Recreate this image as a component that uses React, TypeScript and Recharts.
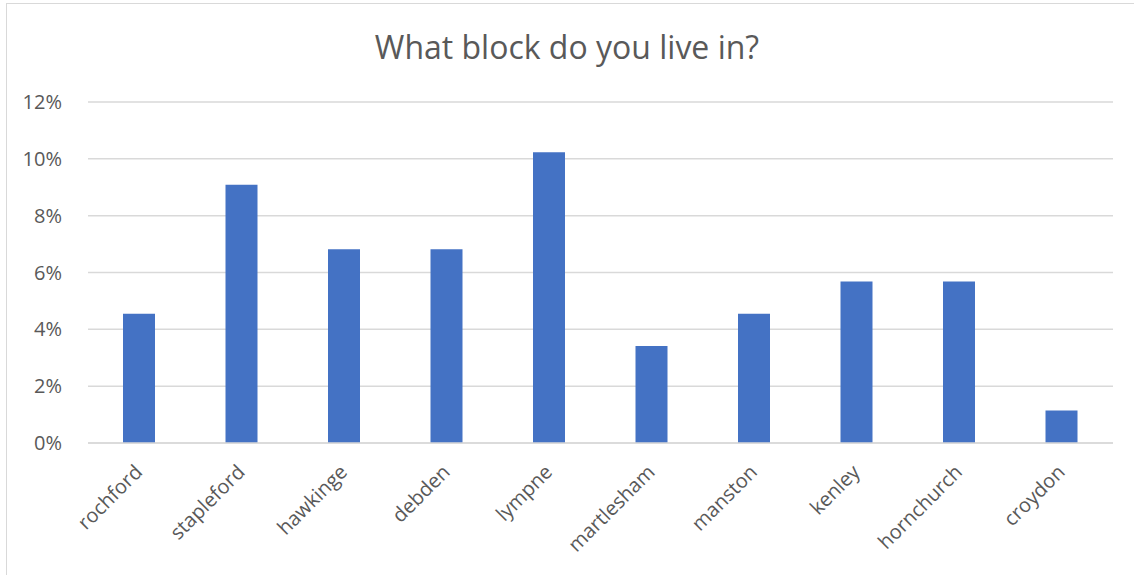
import { BarChart, Bar, XAxis, YAxis, CartesianGrid } from 'recharts';

const blocks = [
  'rochford',
  'stapleford',
  'hawkinge',
  'debden',
  'lympne',
  'martlesham',
  'manston',
  'kenley',
  'hornchurch',
  'croydon',
];
const shares = [4.55, 9.09, 6.82, 6.82, 10.23, 3.41, 4.55, 5.68, 5.68, 1.14];
const yTicks = [0, 2, 4, 6, 8, 10, 12];

const data = blocks.map((name, i) => ({ name, share: shares[i] }));

const FONT = '"Open Sans", sans-serif';
const INK = '#595959';

// eslint-disable-next-line @typescript-eslint/no-explicit-any
function SlantTick({ x, y, payload }: any) {
  const ax = x - 1;
  const ay = y + 17;
  return (
    <text
      x={ax}
      y={ay}
      transform={`rotate(-45, ${ax}, ${ay})`}
      textAnchor="end"
      dominantBaseline="central"
      fill={INK}
      fontSize={20}
      fontFamily={FONT}
    >
      {payload.value}
    </text>
  );
}

export default function App() {
  return (
    <div style={{ position: 'absolute', left: 0, top: 0, width: 1134, height: 575, background: '#fff', overflow: 'hidden' }}>
      <div
        style={{
          position: 'absolute',
          left: 6,
          top: 3,
          width: 1140,
          height: 580,
          border: '1.5px solid #d9d9d9',
        }}
      />
      <div
        style={{
          position: 'absolute',
          top: 26,
          left: 0,
          width: 1134,
          textAlign: 'center',
          color: INK,
          fontFamily: FONT,
          fontSize: 32,
          lineHeight: '42px',
        }}
      >
        What block do you live in?
      </div>
      <div style={{ position: 'absolute', left: 0, top: 0 }}>
        <BarChart
          width={1134}
          height={575}
          data={data}
          margin={{ top: 102, right: 21, bottom: 102, left: 0 }}
        >
          <CartesianGrid vertical={false} stroke="#d9d9d9" strokeWidth={1.5} />
          <XAxis
            dataKey="name"
            height={30}
            axisLine={{ stroke: '#d9d9d9', strokeWidth: 1.5 }}
            tickLine={false}
            interval={0}
            tick={<SlantTick />}
          />
          <YAxis
            width={88}
            domain={[0, 12]}
            ticks={yTicks}
            axisLine={false}
            tickLine={false}
            tickFormatter={(v: number) => `${v}%`}
            tick={{ fill: INK, fontSize: 20, fontFamily: FONT }}
            tickMargin={20}
          />
          <Bar dataKey="share" fill="#4472c4" barSize={32} isAnimationActive={false} />
        </BarChart>
      </div>
    </div>
  );
}
